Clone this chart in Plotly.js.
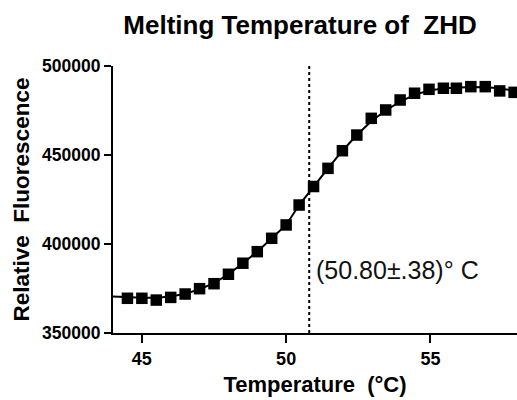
<!DOCTYPE html>
<html>
<head>
<meta charset="utf-8">
<script src="https://cdn.plot.ly/plotly-3.0.1.min.js"></script>
<style>html,body{margin:0;padding:0;background:#fff;}#chart{width:517px;height:400px;}</style>
</head>
<body>
<div id="chart"></div>
<script>
// Measured temperatures (°C)
const temps = [44.5, 45.0, 45.5, 46.0, 46.5, 47.0, 47.5, 48.0, 48.5, 49.0, 49.5, 50.0, 50.45, 50.95,
               51.45, 51.95, 52.45, 52.95, 53.45, 53.95, 54.45, 54.95, 55.45, 55.9, 56.4, 56.9, 57.4, 57.9];
// Relative fluorescence readings
const fluorescence = [369500, 369500, 368500, 370000, 371900, 374900, 377700, 383000, 389200, 395700,
                      403200, 410700, 421900, 432300, 442500, 452400, 461200, 470600, 475300, 480900,
                      484700, 486900, 487500, 487500, 488400, 488400, 486000, 485200];
// Fitted curve
const fitTemps = [44.0, 44.5, 45.0, 45.5, 46.0, 46.5, 47.0, 47.5, 48.0, 48.5, 49.0, 49.5, 50.0, 50.45, 50.95,
                  51.45, 51.95, 52.45, 52.95, 53.45, 53.95, 54.45, 54.95, 55.45, 55.9, 56.4, 56.9, 57.4, 57.9, 58.0];
const fitValues = [370500, 370000, 369800, 369800, 370500, 372000, 374600, 378000, 383000, 389200, 395700,
                   403200, 410700, 421900, 432300, 442500, 452400, 461200, 469000, 475000, 480000,
                   483800, 486200, 487400, 487900, 488200, 488200, 487300, 486300, 486000];
const tm = 50.80;
const tmLabel = "(50.80\u00B1.38)\u00B0 C";
const xTicks = [45, 50, 55];
const yTicks = [350000, 400000, 450000, 500000];

const font = "Arial, 'Liberation Sans', sans-serif";

const traces = [
  {x: fitTemps, y: fitValues, mode: 'lines', line: {color: '#000', width: 2}, hoverinfo: 'skip'},
  {x: temps, y: fluorescence, mode: 'markers', marker: {symbol: 'square', size: 11.5, color: '#000'}}
];

const layout = {
  width: 517, height: 400,
  margin: {l: 113, r: 0, t: 66, b: 67},
  paper_bgcolor: '#fff', plot_bgcolor: '#fff',
  showlegend: false,
  title: {text: 'Melting Temperature of\u00A0 ZHD', x: 0.463, xref: 'paper', xanchor: 'center',
          y: 0.9375, yref: 'container', yanchor: 'middle',
          font: {family: font, size: 26, weight: 'bold', color: '#000'}},
  xaxis: {range: [44, 58], tickvals: xTicks, ticks: 'outside', ticklen: 8, tickwidth: 2, tickcolor: '#000',
          showline: true, linecolor: '#000', linewidth: 2, showgrid: false, zeroline: false,
          tickfont: {family: font, size: 18, weight: 'bold', color: '#000'},
          title: {text: 'Temperature\u00A0 (\u00B0C)', standoff: 9,
                  font: {family: font, size: 22, weight: 'bold', color: '#000'}}},
  yaxis: {range: [350000, 500000], tickvals: yTicks, tickformat: 'd', ticks: 'outside', ticklen: 7, tickwidth: 2,
          tickcolor: '#000', showline: true, linecolor: '#000', linewidth: 2, showgrid: false, zeroline: false,
          tickfont: {family: font, size: 17.5, weight: 'bold', color: '#000'},
          title: {text: 'Relative\u00A0 Fluorescence', standoff: 6,
                  font: {family: font, size: 22.5, weight: 'bold', color: '#000'}}},
  shapes: [{type: 'line', xref: 'x', yref: 'paper', x0: tm, x1: tm, y0: 0, y1: 1,
            line: {color: '#000', width: 2, dash: 'dot'}}],
  annotations: [{text: tmLabel, xref: 'x', yref: 'y', x: 50.95, y: 385400, xanchor: 'left', yanchor: 'middle',
                 showarrow: false, font: {family: font, size: 25, color: '#111'}}]
};

Plotly.newPlot('chart', traces, layout, {displayModeBar: false, staticPlot: true});
</script>
</body>
</html>
